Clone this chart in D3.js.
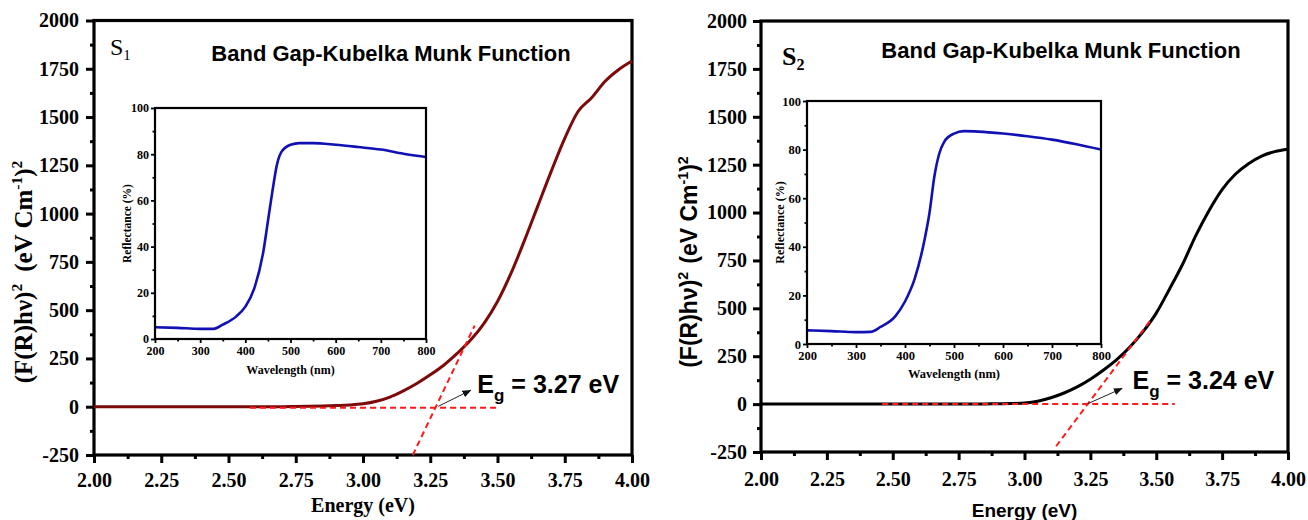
<!DOCTYPE html>
<html>
<head>
<meta charset="utf-8">
<script src="https://cdn.jsdelivr.net/npm/d3@7/dist/d3.min.js"></script>
<style>
  html, body { margin: 0; padding: 0; background: #fff; }
  svg { display: block; }
  svg text { font-family: 'Liberation Serif', 'Times New Roman', serif; font-weight: bold; fill: #000; }
</style>
</head>
<body>
<svg id="chart" width="1308" height="520"></svg>
<script>
// ---------- DATA ----------
const energyTicks = [2.00, 2.25, 2.50, 2.75, 3.00, 3.25, 3.50, 3.75, 4.00];
const fTicks = [-250, 0, 250, 500, 750, 1000, 1250, 1500, 1750, 2000];
const wlTicks = [200, 300, 400, 500, 600, 700, 800];
const reflTicks = [0, 20, 40, 60, 80, 100];

const energyS1 = [2.00, 2.20, 2.40, 2.60, 2.70, 2.80, 2.90, 2.95, 3.00, 3.05, 3.10, 3.15, 3.20, 3.25, 3.30, 3.35, 3.40, 3.45, 3.50, 3.55, 3.60, 3.65, 3.70, 3.75, 3.80, 3.85, 3.90, 3.95, 4.00];
const fS1 = [0, 0, 0, 0, 0.5, 2, 6, 9, 15, 28, 50, 82, 120, 165, 215, 276, 345, 432, 545, 690, 860, 1040, 1220, 1390, 1530, 1600, 1685, 1745, 1790];

const energyS2 = [2.00, 2.20, 2.40, 2.60, 2.80, 2.85, 2.90, 2.95, 3.00, 3.05, 3.10, 3.15, 3.20, 3.25, 3.30, 3.35, 3.40, 3.45, 3.50, 3.55, 3.60, 3.65, 3.70, 3.75, 3.80, 3.85, 3.90, 3.95, 4.00];
const fS2 = [0, 0, 0, 0, 0, 1, 2, 3, 6, 15, 33, 58, 90, 130, 178, 232, 298, 378, 475, 600, 730, 880, 1010, 1120, 1200, 1255, 1295, 1318, 1330];

const wavelength = [200, 250, 300, 330, 350, 380, 400, 420, 440, 450, 460, 470, 480, 500, 520, 550, 600, 650, 700, 750, 800];
const reflS1 = [5.1, 4.8, 4.4, 4.4, 6.2, 9.8, 14, 22, 38, 51, 64, 75.5, 81, 84.1, 84.8, 84.8, 84.1, 83.1, 82, 80.2, 78.8];
const reflS2 = [5.6, 5.3, 4.9, 5.0, 7.0, 11.4, 17.5, 27, 43, 54, 69, 78.4, 83.2, 86.6, 87.6, 87.4, 86.6, 85.5, 84.1, 82.2, 80];

const tangentS1E = [3.185, 3.415], tangentS1F = [-250, 420];
const baseS1E = [2.58, 3.50], baseS1F = [-5, -5];
const arrowS1E = [3.28, 3.40], arrowS1F = [2, 85];
const tangentS2E = [3.12, 3.485], tangentS2F = [-220, 450];
const baseS2E = [2.46, 3.57], baseS2F = [0, 0];
const arrowS2E = [3.24, 3.37], arrowS2F = [2, 82];

const titleText = "Band Gap-Kubelka Munk Function";
const egS1 = "3.27", egS2 = "3.24";

// ---------- DRAW ----------
const svg = d3.select("#chart");
const SERIF = "'Liberation Serif', 'Times New Roman', serif";
const SANS = "'Liberation Sans', Arial, sans-serif";

const defs = svg.append("defs");
defs.append("marker").attr("id", "arrowhead")
  .attr("viewBox", "0 0 10 10").attr("refX", 9).attr("refY", 5)
  .attr("markerWidth", 9).attr("markerHeight", 9).attr("orient", "auto")
  .attr("markerUnits", "userSpaceOnUse")
  .append("path").attr("d", "M0,1 L10,5 L0,9 Z").attr("fill", "#111");

function minorVals(ticks) {
  const out = [];
  for (let i = 0; i < ticks.length - 1; i++) out.push((ticks[i] + ticks[i + 1]) / 2);
  return out;
}
const intFmt = v => String(Math.round(v));

function drawAxes(g, x, y, xt, yt, o) {
  const [x0, x1] = x.range();
  const [yb, yt0] = y.range();
  g.append("g").attr("transform", `translate(0,${yb})`)
    .call(d3.axisBottom(x).tickValues(minorVals(xt)).tickSize(o.minor).tickSizeOuter(0).tickFormat(""))
    .call(s => s.select(".domain").remove())
    .call(s => s.selectAll("line").attr("stroke", "#000").attr("stroke-width", o.tickW));
  g.append("g").attr("transform", `translate(${x0},0)`)
    .call(d3.axisLeft(y).tickValues(minorVals(yt)).tickSize(o.minor).tickSizeOuter(0).tickFormat(""))
    .call(s => s.select(".domain").remove())
    .call(s => s.selectAll("line").attr("stroke", "#000").attr("stroke-width", o.tickW));
  const gx = g.append("g").attr("transform", `translate(0,${yb})`)
    .call(d3.axisBottom(x).tickValues(xt).tickSize(o.major).tickSizeOuter(0).tickPadding(o.xPad).tickFormat(o.xFmt));
  const gy = g.append("g").attr("transform", `translate(${x0},0)`)
    .call(d3.axisLeft(y).tickValues(yt).tickSize(o.major).tickSizeOuter(0).tickPadding(o.yPad).tickFormat(o.yFmt));
  [gx, gy].forEach(a => {
    a.attr("font-family", null).attr("font-size", null);
    a.select(".domain").remove();
    a.selectAll("line").attr("stroke", "#000").attr("stroke-width", o.tickW);
    a.selectAll("text").style("fill", "#000").style("font-family", SERIF)
      .style("font-weight", "bold").style("font-size", o.font + "px");
  });
  g.append("rect").attr("x", x0).attr("y", yt0).attr("width", x1 - x0).attr("height", yb - yt0)
    .attr("fill", "none").attr("stroke", "#000").attr("stroke-width", o.frameW);
}

function drawPanel(p) {
  const g = svg.append("g");
  const x = d3.scaleLinear().domain([2, 4]).range([p.x0, p.x1]);
  const y = d3.scaleLinear().domain([-250, 2000]).range([p.yb, p.yt]);

  drawAxes(g, x, y, energyTicks, fTicks, {
    major: 8, minor: 4, tickW: 3, frameW: 3.2, xPad: p.xPad, yPad: p.yPad, font: 20,
    xFmt: d3.format(".2f"), yFmt: intFmt
  });

  // S label
  const s = g.append("text").attr("x", p.sx).attr("y", p.sy)
    .style("font-family", SERIF).style("font-weight", p.sWeight)
    .style("font-size", p.sSize + "px").style("fill", "#000").text("S");
  s.append("tspan").style("font-size", (p.sSize * 0.62) + "px").attr("dy", 5).text(p.sub);

  // title
  g.append("text").attr("x", p.tx).attr("y", p.ty).attr("text-anchor", "middle")
    .style("font-family", SANS).style("font-weight", "bold").style("font-size", "22px")
    .style("fill", "#000").text(titleText);

  // axis titles
  g.append("text").attr("x", (p.x0 + p.x1) / 2).attr("y", p.xTitleY).attr("text-anchor", "middle")
    .style("font-family", p.titleFont).style("font-weight", "bold").style("font-size", p.xTitleSize + "px")
    .style("fill", "#000").text("Energy (eV)");
  const yt = g.append("text").attr("transform", `translate(${p.yTitleX},${p.yTitleY}) rotate(-90)`)
    .attr("text-anchor", "middle").style("font-family", p.titleFont).style("font-weight", "bold")
    .style("font-size", p.yTitleSize + "px").style("fill", "#000");
  const sup = (p.yTitleSize * 0.62) + "px";
  const sh = Math.round(p.yTitleSize * 0.4);
  yt.append("tspan").text("(F(R)hν)");
  yt.append("tspan").attr("dy", -sh).style("font-size", sup).text("2");
  yt.append("tspan").attr("dy", sh).attr("dx", p.yGap).text("(eV Cm");
  yt.append("tspan").attr("dy", -sh).style("font-size", sup).text("-1");
  yt.append("tspan").attr("dy", sh).text(")");
  yt.append("tspan").attr("dy", -sh).style("font-size", sup).text("2");

  // inset
  const ix = d3.scaleLinear().domain([200, 800]).range([p.ix0, p.ix1]);
  const iy = d3.scaleLinear().domain([0, 100]).range([p.iyb, p.iyt]);
  const ig = g.append("g");
  ig.append("path").datum(d3.range(p.wl.length))
    .attr("fill", "none").attr("stroke", "#1010b4").attr("stroke-width", 2.6)
    .attr("d", d3.line().x(i => ix(p.wl[i])).y(i => iy(p.refl[i])).curve(d3.curveMonotoneX));
  drawAxes(ig, ix, iy, wlTicks, reflTicks, {
    major: 4, minor: 2.5, tickW: 1.8, frameW: 2.2, xPad: 3, yPad: 2, font: p.iFont,
    xFmt: intFmt, yFmt: intFmt
  });
  ig.append("text").attr("x", (p.ix0 + p.ix1) / 2).attr("y", p.iXTitleY).attr("text-anchor", "middle")
    .style("font-family", SERIF).style("font-weight", "bold").style("font-size", p.iFont + "px")
    .style("fill", "#000").text("Wavelength (nm)");
  ig.append("text").attr("transform", `translate(${p.iYTitleX},${(p.iyb + p.iyt) / 2}) rotate(-90)`)
    .attr("text-anchor", "middle").style("font-family", SERIF).style("font-weight", "bold")
    .style("font-size", (p.iFont - 0.5) + "px").style("fill", "#000").text("Reflectance (%)");

  // main curve
  g.append("path").datum(d3.range(p.E.length))
    .attr("fill", "none").attr("stroke", p.color).attr("stroke-width", 3)
    .attr("stroke-linejoin", "round")
    .attr("d", d3.line().x(i => x(p.E[i])).y(i => y(p.F[i])).curve(d3.curveMonotoneX));

  // dashed fit lines
  [[p.tE, p.tF], [p.bE, p.bF]].forEach(([E, F]) => {
    g.append("path").datum(d3.range(E.length))
      .attr("fill", "none").attr("stroke", "#ff1a1a").attr("stroke-width", 2)
      .attr("stroke-dasharray", "6,4")
      .attr("d", d3.line().x(i => x(E[i])).y(i => y(F[i])));
  });

  // arrow
  g.append("line").attr("x1", x(p.aE[0])).attr("y1", y(p.aF[0]))
    .attr("x2", x(p.aE[1])).attr("y2", y(p.aF[1]))
    .attr("stroke", "#222").attr("stroke-width", 1).attr("marker-end", "url(#arrowhead)");

  // Eg text
  const et = g.append("text").attr("x", x(p.egX)).attr("y", y(p.egY))
    .style("font-family", SANS).style("font-weight", "bold").style("font-size", "25px").style("fill", "#000");
  et.append("tspan").text("E");
  et.append("tspan").style("font-size", "17px").attr("dy", 8).text("g");
  et.append("tspan").attr("dy", -8).text(" = " + p.eg + " eV");
}

drawPanel({
  x0: 94, x1: 632, yb: 455, yt: 20.5, xPad: 10, yPad: 7,
  sx: 110, sy: 55, sSize: 24, sWeight: "normal", sub: "1",
  tx: 391, ty: 61,
  titleFont: SERIF, xTitleY: 512, xTitleSize: 20, yTitleX: 32, yTitleY: 272, yTitleSize: 25, yGap: 12,
  ix0: 155, ix1: 426, iyb: 339, iyt: 108, iFont: 12, iXTitleY: 374, iYTitleX: 131,
  wl: wavelength, refl: reflS1,
  E: energyS1, F: fS1, color: "#7d0a0a",
  tE: tangentS1E, tF: tangentS1F, bE: baseS1E, bF: baseS1F,
  aE: arrowS1E, aF: arrowS1F, egX: 3.425, egY: 70, eg: egS1
});

drawPanel({
  x0: 761, x1: 1288, yb: 452, yt: 21, xPad: 12, yPad: 6,
  sx: 782, sy: 65, sSize: 26, sWeight: "bold", sub: "2",
  tx: 1061, ty: 58,
  titleFont: SANS, xTitleY: 517, xTitleSize: 19, yTitleX: 697, yTitleY: 262, yTitleSize: 23, yGap: 8,
  ix0: 807, ix1: 1101, iyb: 344, iyt: 101, iFont: 12.5, iXTitleY: 378, iYTitleX: 784,
  wl: wavelength, refl: reflS2,
  E: energyS2, F: fS2, color: "#000",
  tE: tangentS2E, tF: tangentS2F, bE: baseS2E, bF: baseS2F,
  aE: arrowS2E, aF: arrowS2F, egX: 3.41, egY: 78, eg: egS2
});
</script>
</body>
</html>
